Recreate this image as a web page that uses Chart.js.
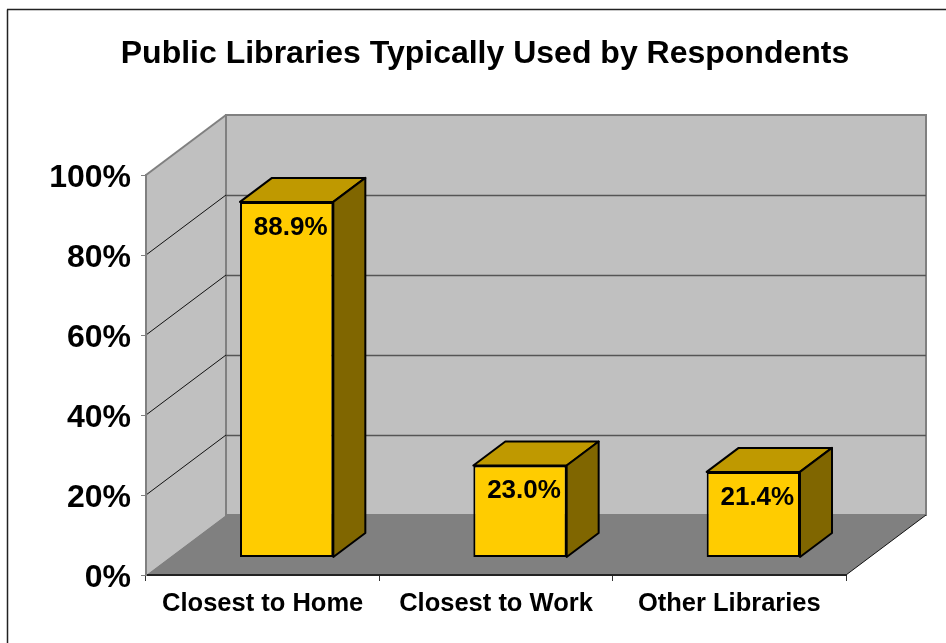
<!DOCTYPE html>
<html>
<head>
<meta charset="utf-8">
<title>Public Libraries Typically Used by Respondents</title>
<script src="https://cdn.jsdelivr.net/npm/chart.js@4"></script>
<style>
html, body { margin: 0; padding: 0; background: #fff; overflow: hidden; }
canvas { display: block; }
</style>
</head>
<body>
<canvas id="myChart" width="946" height="643"></canvas>
<script>
const chartTitle = 'Public Libraries Typically Used by Respondents';
const categories = ['Closest to Home', 'Closest to Work', 'Other Libraries'];
const usedValues = [88.9, 23.0, 21.4];
const yTicks = [0, 20, 40, 60, 80, 100];

const fontName = '"Liberation Sans", Arial, sans-serif';

// fake 3D: the scales are the front plane of the box, the walls sit (wallDx, wallDy) behind it
const wallDx = 80, wallDy = -60;
const barShiftX = 24, barShiftY = -17.5;
const barDepthX = 32, barDepthY = -24;

function poly(ctx, pts, fill, stroke, lw) {
    ctx.beginPath();
    pts.forEach((p, i) => i ? ctx.lineTo(p[0], p[1]) : ctx.moveTo(p[0], p[1]));
    ctx.closePath();
    if (fill) { ctx.fillStyle = fill; ctx.fill(); }
    if (stroke) { ctx.strokeStyle = stroke; ctx.lineWidth = lw; ctx.stroke(); }
}

function line(ctx, x1, y1, x2, y2, color, lw) {
    ctx.beginPath();
    ctx.moveTo(x1, y1);
    ctx.lineTo(x2, y2);
    ctx.strokeStyle = color;
    ctx.lineWidth = lw;
    ctx.stroke();
}

const box3d = {
    id: 'box3d',
    afterLayout(chart) {
        // title is centred a bit left of the plot
        chart.titleBlock.left = 24;
        chart.titleBlock.right = 946;
    },
    beforeDraw(chart) {
        const ctx = chart.ctx, a = chart.chartArea, y = chart.scales.y;
        const l = a.left, r = a.right, t = a.top, b = a.bottom;
        // the y labels sit a little under their ticks in the original
        y.getLabelItems(a).forEach(item => { if (!item.moved) { item.textOffset += 3; item.moved = true; } });
        ctx.save();
        // outer frame, only top and left are inside the picture
        line(ctx, 7.5, 643, 7.5, 9.5, '#222', 1.5);
        line(ctx, 7, 9.5, 946, 9.5, '#222', 1.5);
        // left wall, back wall, floor
        poly(ctx, [[l, t], [l + wallDx, t + wallDy], [l + wallDx, b + wallDy], [l, b]], '#C0C0C0');
        poly(ctx, [[l + wallDx, t + wallDy], [r + wallDx, t + wallDy], [r + wallDx, b + wallDy], [l + wallDx, b + wallDy]], '#C0C0C0', '#808080', 2);
        poly(ctx, [[l, b], [l + wallDx, b + wallDy], [r + wallDx, b + wallDy], [r, b]], '#808080');
        line(ctx, l + wallDx, t + wallDy, l + wallDx, b + wallDy, '#808080', 2);
        line(ctx, l, t, l + wallDx, t + wallDy, '#808080', 2);
        line(ctx, r, b, r + wallDx, b + wallDy, '#111', 1);
        // gridlines round the walls
        yTicks.slice(1, -1).forEach(v => {
            const py = Math.round(y.getPixelForValue(v));
            line(ctx, l, py, l + wallDx, py + wallDy, '#111', 1);
            line(ctx, l + wallDx, py + wallDy + 0.5, r + wallDx, py + wallDy + 0.5, '#555', 1.5);
        });
        ctx.restore();
    },
    beforeDatasetsDraw(chart) {
        const ctx = chart.ctx;
        ctx.save();
        ctx.lineJoin = 'round';
        chart.getDatasetMeta(0).data.forEach(el => {
            const p = el.getProps(['x', 'y', 'base', 'width'], true);
            const x1 = p.x - p.width / 2 + barShiftX, x2 = p.x + p.width / 2 + barShiftX;
            const top = p.y + barShiftY, bot = p.base + barShiftY;
            poly(ctx, [[x1, top], [x1 + barDepthX, top + barDepthY], [x2 + barDepthX, top + barDepthY], [x2, top]], '#BF9900', '#000', 2);
            poly(ctx, [[x2, top], [x2 + barDepthX, top + barDepthY], [x2 + barDepthX, bot + barDepthY], [x2, bot]], '#806600', '#000', 2);
        });
        ctx.restore();
    },
    beforeDatasetDraw(chart) {
        chart.ctx.save();
        chart.ctx.translate(barShiftX, barShiftY);
    },
    afterDatasetDraw(chart) {
        chart.ctx.restore();
    },
    afterDatasetsDraw(chart) {
        const ctx = chart.ctx;
        ctx.save();
        ctx.font = 'bold 26px ' + fontName;
        ctx.fillStyle = '#000';
        ctx.textAlign = 'center';
        ctx.textBaseline = 'middle';
        chart.getDatasetMeta(0).data.forEach((el, i) => {
            const p = el.getProps(['x', 'y'], true);
            ctx.fillText(usedValues[i].toFixed(1) + '%', p.x + barShiftX + 4, p.y + barShiftY + 25.5);
        });
        ctx.restore();
    }
};

var ctx = document.getElementById('myChart').getContext('2d');
var chart = new Chart(ctx, {
    type: 'bar',
    data: {
        labels: categories,
        datasets: [{
            data: usedValues,
            backgroundColor: '#FFCC00',
            borderColor: '#000',
            borderWidth: 2,
            borderSkipped: false,
            clip: false,
            categoryPercentage: 1,
            barPercentage: 0.4
        }]
    },
    options: {
        responsive: false,
        animation: false,
        layout: { padding: { left: 0, right: 100, top: 0, bottom: 0 } },
        plugins: {
            legend: { display: false },
            tooltip: { enabled: false },
            title: {
                display: true,
                text: chartTitle,
                color: '#000',
                font: { family: fontName, size: 32, weight: 'bold', lineHeight: 1 },
                padding: { top: 38, bottom: 105 }
            }
        },
        scales: {
            x: {
                afterFit: s => { s.height = 68; },
                border: { color: '#222', width: 2 },
                grid: { drawOnChartArea: false, color: '#333', tickLength: 6 },
                ticks: { color: '#000', maxRotation: 0, padding: 8, font: { family: fontName, size: 25.5, weight: 'bold' } }
            },
            y: {
                min: 0,
                max: 100,
                afterFit: s => { s.width = 146; },
                afterBuildTicks: s => { s.ticks = yTicks.map(v => ({ value: v })); },
                border: { color: '#808080', width: 2 },
                grid: { drawOnChartArea: false, color: '#808080', tickLength: 5 },
                ticks: {
                    color: '#000',
                    padding: 10,
                    font: { family: fontName, size: 32, weight: 'bold' },
                    callback: v => v + '%'
                }
            }
        }
    },
    plugins: [box3d]
});
</script>
</body>
</html>
